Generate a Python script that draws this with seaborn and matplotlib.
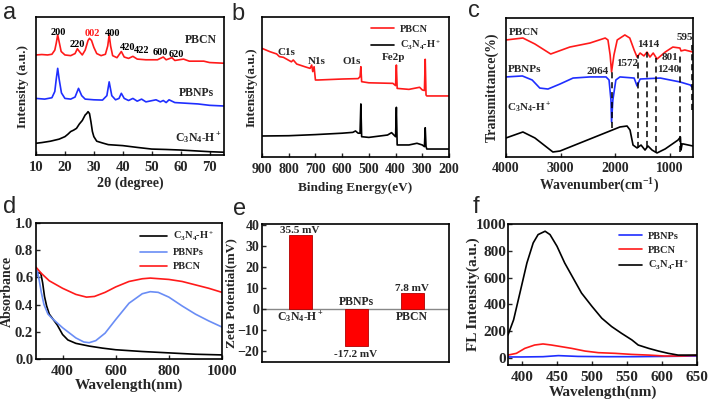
import matplotlib
matplotlib.use("Agg")
import matplotlib.pyplot as plt
import seaborn as sns
import pandas as pd

# ---------------- data ----------------
C3N4 = r"C$_3$N$_4$-H$^+$"

# (a) XRD
xrd_pbcn_x = [10, 12, 14, 15.5, 16.5, 17.0, 17.5, 18.0, 18.7, 20, 22, 23.5, 24.3, 25.0, 26.0, 27.0, 28.0, 28.5, 29.2, 30.0,
              31.0, 32.5, 34.0, 34.8, 35.3, 35.8, 36.5, 38.0, 39.5, 40.5, 42, 43.5, 45, 48, 52, 54, 55, 57, 58, 61, 63, 68, 70, 75]
xrd_pbcn_y = [72.5, 72.8, 72.5, 73, 76, 81, 87, 82, 75, 72.5, 72, 73.5, 77, 75, 72.5, 76, 83, 84.5, 83, 78,
              73.5, 72, 73, 79, 87, 79, 72, 70.5, 75, 71, 70, 71.5, 69.5, 69, 69, 71, 69, 70.5, 68.5, 69.5, 68, 68, 67, 66.5]
xrd_pbnp_x = [10, 13, 15.5, 16.5, 17.0, 17.5, 18.0, 18.8, 20, 22, 23.5, 24.7, 25.8, 27, 30, 33, 34.5, 35.3, 36.2, 37.5,
              38.7, 39.5, 40.5, 42, 43.5, 45, 46.5, 48, 51.5, 53, 54, 55, 56, 58, 62, 66, 70, 75]
xrd_pbnp_y = [41, 40.5, 41.5, 46, 55, 62.8, 55, 45, 41, 40.5, 42, 48.3, 43, 40.5, 40, 39.8, 43, 53, 43, 40,
              41, 44.7, 41, 39.5, 41, 39, 40.5, 38.5, 40, 38.5, 39.5, 38, 40, 38, 37.5, 37, 36, 35.5]
xrd_cn_x = [10, 12, 15, 18, 20, 21, 22, 23, 24, 25, 26, 27, 27.5, 28, 28.5, 29, 29.5, 30, 31, 33,
            35, 40, 45, 50, 55, 60, 65, 70, 75]
xrd_cn_y = [8.5, 9, 10, 11.5, 13.3, 15, 17, 18, 19.3, 22.5, 25, 29, 30, 31.4, 30, 24, 17, 13.3, 10, 8.7,
            7.5, 6.8, 5.5, 4.3, 4, 3.6, 3, 2.4, 2]
xrd_peak_labels = ["200", "220", "002", "400", "420", "422", "600", "620"]
xrd_peak_x = [17.6, 24.2, 29.4, 36.6, 41.6, 46.4, 52.9, 58.4]
xrd_peak_y = [89, 80, 87.7, 87.7, 78, 76, 74.6, 73]

# (b) XPS
xps_pbcn_x = [900, 870, 845, 835, 820, 790, 783, 770, 740, 720, 714, 710, 705, 700, 690, 600, 540, 533, 530, 527,
              500, 410, 400, 397, 394, 350, 310, 300, 292, 289, 286, 283, 200]
xps_pbcn_y = [77.6, 75.2, 73.6, 71.7, 71.2, 68, 69.3, 66.4, 64.5, 63.3, 65.7, 61, 64.5, 55, 55, 55.7, 56, 57.4, 64.5, 53.8,
              53, 52.6, 51, 65.7, 49, 48.3, 49.8, 47.9, 47.5, 69.8, 44.3, 43.6, 43.6]
xps_cn_x = [900, 800, 700, 600, 560, 550, 540, 533, 530, 527, 500, 430, 415, 400, 397, 394, 350, 320, 300, 292,
            289, 286, 283, 200]
xps_cn_y = [15, 15.2, 16, 17, 17.6, 18.6, 17, 17, 37.9, 14.5, 14, 15.7, 17.4, 14.5, 35.5, 8.6, 8.6, 9.8, 8.6, 7.4,
            20.9, 7.4, 5.7, 5.7]
xps_labels = ["C1s", "N1s", "O1s", "Fe2p"]
xps_label_x = [810, 694, 563, 409]
xps_label_y = [74.3, 67.9, 67.9, 71.4]

# (c) FTIR
ir_pbcn_x = [4000, 3690, 3470, 3180, 2830, 2460, 2180, 2130, 2090, 2064, 2020, 1960, 1820, 1730, 1650, 1596, 1540, 1470, 1414, 1360,
             1300, 1230, 1080, 940, 810, 790, 720, 570]
ir_pbcn_y = [84.2, 85.6, 81.3, 74.1, 79.1, 82, 85.6, 84.2, 73.4, 61.2, 73.4, 84.2, 87.8, 85.6, 77, 71.9, 74.8, 72.7, 75.5, 71.9,
             74.8, 70.5, 75.5, 79.1, 78.4, 76.3, 77, 75.5]
ir_pbnp_x = [4000, 3700, 3520, 3380, 3230, 3010, 2770, 2460, 2165, 2110, 2075, 2064, 2040, 1985, 1910, 1650, 1596, 1540, 1170, 810,
             620, 570]
ir_pbnp_y = [57.6, 58.3, 55.4, 49.6, 48.9, 52.5, 56.8, 57.6, 57.6, 55.4, 41, 25.2, 41, 55.4, 57.6, 56.8, 51.1, 56.1, 56.8, 54,
             51.8, 49.6]
ir_cn_x = [4000, 3690, 3470, 3140, 3010, 1910, 1780, 1725, 1670, 1596, 1523, 1450, 1395, 1321, 1230, 1080, 845, 801, 790, 770,
           750, 570]
ir_cn_y = [13.7, 18, 13.7, 3.6, 4.3, 21.6, 22.3, 19.4, 8.6, 6.5, 8.6, 5, 7.9, 5, 2.9, 5.8, 12.2, 14.4, 5, 9.4,
           9.4, 7.9]
ir_bands = [2064, 1572, 1414, 1240, 801, 595]
ir_band_top = [61.2, 73.4, 75.5, 71.2, 73.4, 80.6]
ir_band_bottom = [20.9, 6.5, 7.2, 3.6, 3.6, 33.8]
ir_band_label_x = [2312, 1780, 1394, 1028, 991, 716]
ir_band_label_y = [61.2, 67.6, 80.6, 62.6, 71.9, 86.3]

# (d) UV-vis
uv_cn_x = [300, 308, 318, 325, 332, 340, 350, 365, 380, 400, 420, 450, 500, 550, 600, 700, 800, 900, 1000]
uv_cn_y = [0.60, 0.635, 0.63, 0.56, 0.46, 0.39, 0.33, 0.29, 0.25, 0.18, 0.14, 0.115, 0.095, 0.08, 0.068, 0.055, 0.045, 0.035, 0.03]
uv_pbnp_x = [300, 305, 312, 320, 330, 345, 360, 400, 450, 480, 500, 525, 560, 600, 650, 700, 730, 760, 800, 850, 900, 950, 1000]
uv_pbnp_y = [0.60, 0.65, 0.58, 0.49, 0.40, 0.33, 0.30, 0.23, 0.155, 0.125, 0.12, 0.135, 0.19, 0.29, 0.41, 0.48, 0.495, 0.49, 0.455,
             0.39, 0.33, 0.28, 0.235]
uv_pbcn_x = [300, 320, 350, 400, 450, 490, 520, 560, 600, 650, 700, 730, 800, 850, 900, 950, 1000]
uv_pbcn_y = [0.675, 0.63, 0.575, 0.52, 0.475, 0.455, 0.46, 0.49, 0.53, 0.57, 0.59, 0.595, 0.585, 0.57, 0.545, 0.52, 0.49]

# (e) zeta potential
zeta_names = ["C3N4-H+", "PBNPs", "PBCN"]
zeta_values = [35.5, -17.2, 7.8]
zeta_display = [C3N4, "PBNPs", "PBCN"]

# (f) fluorescence
fl_cn_x = [380, 388, 397, 407, 416, 423, 433, 440, 450, 461, 473, 485, 500, 514, 528, 542, 557, 566, 581, 595, 609, 623, 650]
fl_cn_y = [172, 285, 485, 709, 859, 921, 946, 921, 834, 709, 597, 485, 385, 297, 235, 185, 135, 97, 72, 52, 35, 22, 22]
fl_pbcn_x = [380, 392, 404, 418, 430, 442, 456, 471, 490, 509, 533, 557, 581, 604, 628, 650]
fl_pbcn_y = [22, 35, 72, 97, 105, 97, 85, 72, 52, 40, 35, 27, 22, 15, 15, 20]
fl_pbnp_x = [380, 400, 430, 452, 480, 520, 560, 600, 650]
fl_pbnp_y = [8, 8, 10, 18, 12, 10, 10, 12, 15]

# ---------------- style ----------------
sns.set_style("ticks")
plt.rcParams["font.family"] = ["Liberation Serif", "DejaVu Serif"]
plt.rcParams["font.weight"] = "bold"
plt.rcParams["axes.labelweight"] = "bold"
plt.rcParams["mathtext.fontset"] = "custom"
plt.rcParams["mathtext.rm"] = "Liberation Serif:bold"
plt.rcParams["mathtext.it"] = "Liberation Serif:italic:bold"
plt.rcParams["mathtext.bf"] = "Liberation Serif:bold"
plt.rcParams["mathtext.default"] = "rm"
plt.rcParams["axes.linewidth"] = 1.2

RED = "#FF1A1A"
BLUE = "#1F2EFF"
LBLUE = "#6A8DF5"
LW = 1.2

W, H = 709, 401
fig = plt.figure(figsize=(W / 100, H / 100), dpi=100)
BOX = {}


def add_ax(l, r, t, b):
    ax = fig.add_axes([l / W, 1 - b / H, (r - l) / W, (b - t) / H])
    BOX[ax] = (l, r, t, b)
    return ax


def line(ax, x, y, color, label=None):
    sns.lineplot(x=x, y=y, ax=ax, color=color, lw=LW, estimator=None, sort=False, label=label)


def frame(ax, fs, ypad=3, xpad=4.5):
    for s in ax.spines.values():
        s.set_visible(True)
        s.set_color("black")
        s.set_linewidth(1.2)
    ax.tick_params(direction="in", length=3, width=1, labelsize=fs)
    ax.tick_params(axis="x", pad=xpad)
    ax.tick_params(axis="y", pad=ypad)


def labels(ax, xl, xfs, xpy, yl, yfs, ypx):
    l, r, t, b = BOX[ax]
    ax.set_xlabel(xl, fontsize=xfs)
    ax.set_ylabel(yl, fontsize=yfs)
    ax.xaxis.set_label_coords(0.5, (b - xpy) / (b - t))
    ax.xaxis.label.set_va("center")
    ax.yaxis.set_label_coords((ypx - l) / (r - l), 0.5)
    ax.yaxis.label.set_va("center")


# (a)
ax = add_ax(36, 224, 17, 155)
line(ax, xrd_pbcn_x, xrd_pbcn_y, RED)
line(ax, xrd_pbnp_x, xrd_pbnp_y, BLUE)
line(ax, xrd_cn_x, xrd_cn_y, "black")
ax.set_xlim(10, 75)
ax.set_ylim(0, 100)
ax.set_xticks([10, 20, 30, 40, 50, 60, 70])
ax.set_yticks([])
frame(ax, 10.5)
labels(ax, "2θ (degree)", 10, 183, "Intensity (a.u.)", 9.5, 23)
for lab, x, y in zip(xrd_peak_labels, xrd_peak_x, xrd_peak_y):
    ax.text(x, y, lab, fontsize=7.5, ha="center", va="center", color=RED if lab == "002" else "black")
ax.text(67, 83, "PBCN", fontsize=8.5, ha="center", va="center")
ax.text(65.3, 45, "PBNPs", fontsize=8.5, ha="center", va="center")
ax.text(66, 12.3, C3N4, fontsize=8.5, ha="center", va="center")

# (b)
ax = add_ax(262, 449, 17, 157)
line(ax, xps_pbcn_x, xps_pbcn_y, RED, "PBCN")
line(ax, xps_cn_x, xps_cn_y, "black", C3N4)
ax.set_xlim(900, 200)
ax.set_ylim(0, 100)
ax.set_xticks([900, 800, 700, 600, 500, 400, 300, 200])
ax.set_yticks([])
frame(ax, 10)
labels(ax, "Binding Energy(eV)", 9.5, 188, "Intensity(a.u.)", 9.5, 252)
for lab, x, y in zip(xps_labels, xps_label_x, xps_label_y):
    ax.text(x, y, lab, fontsize=8, ha="center", va="center")
ax.legend(loc="upper right", frameon=False, fontsize=7.5, handlelength=2.2, labelspacing=0.5,
          borderaxespad=0.3, handletextpad=0.6)

# (c)
ax = add_ax(506, 693, 18, 157)
line(ax, ir_pbcn_x, ir_pbcn_y, RED)
line(ax, ir_pbnp_x, ir_pbnp_y, BLUE)
line(ax, ir_cn_x, ir_cn_y, "black")
ax.vlines(ir_bands, ir_band_bottom, ir_band_top, colors="black", linestyles=(0, (4, 2.5)), lw=1.1)
ax.set_xlim(4000, 570)
ax.set_ylim(0, 100)
ax.set_xticks([4000, 3000, 2000, 1000])
ax.set_yticks([])
frame(ax, 10, xpad=3.5)
labels(ax, "Wavenumber(cm$^{-1}$)", 10, 186, "Transmittance(%)", 10, 492)
for b, x, y in zip(ir_bands, ir_band_label_x, ir_band_label_y):
    ax.text(x, y, str(b), fontsize=8, ha="center", va="center")
ax.text(3950, 89.9, "PBCN", fontsize=8, ha="left", va="center")
ax.text(3960, 62.6, "PBNPs", fontsize=8, ha="left", va="center")
ax.text(3975, 35.3, C3N4, fontsize=8, ha="left", va="center")

# (d)
ax = add_ax(36, 222, 223, 359)
line(ax, uv_cn_x, uv_cn_y, "black", C3N4)
line(ax, uv_pbnp_x, uv_pbnp_y, LBLUE, "PBNPs")
line(ax, uv_pbcn_x, uv_pbcn_y, RED, "PBCN")
ax.set_xlim(300, 1000)
ax.set_ylim(0, 1.0)
ax.set_xticks([400, 600, 800, 1000])
ax.set_yticks([0.0, 0.2, 0.4, 0.6, 0.8, 1.0])
ax.set_yticklabels([f"{v:.1f}" for v in [0.0, 0.2, 0.4, 0.6, 0.8, 1.0]])
frame(ax, 10.5, ypad=2)
ax.tick_params(axis="x", labelsize=11)
labels(ax, "Wavelength(nm)", 11, 385, "Absorbance", 10, 7)
ax.legend(loc="upper right", frameon=False, fontsize=7.5, handlelength=2.6, labelspacing=0.45,
          borderaxespad=0.3, handletextpad=0.6)

# (e)
ax = add_ax(262, 449, 224, 362)
df_z = pd.DataFrame({"sample": zeta_names, "zeta": zeta_values})
sns.barplot(data=df_z, x="sample", y="zeta", ax=ax, color="#FF0000", saturation=1, width=0.41,
            edgecolor="#B00000", linewidth=0.6)
ax.axhline(0, color="#888888", lw=1.0, zorder=0.5)
ax.set_xlim(-0.68, 2.66)
ax.set_ylim(-25, 40.5)
ax.set_xticks([])
ax.set_yticks([40, 30, 20, 10, 0, -10, -20])
frame(ax, 10, ypad=2)
labels(ax, "", 10, 380, "Zeta Potential(mV)", 9.5, 231)
for i, (v, name) in enumerate(zip(zeta_values, zeta_display)):
    if v > 0:
        ax.text(i, v + 1.9, f"{v} mV", fontsize=8, ha="center", va="center")
        ax.text(i, -3.8, name, fontsize=8.5, ha="center", va="center")
    else:
        ax.text(i, v - 4.3, f"{v} mV", fontsize=8, ha="center", va="center")
        ax.text(i, 3.5, name, fontsize=8.5, ha="center", va="center")

# (f)
ax = add_ax(508, 697, 224, 365)
line(ax, fl_pbnp_x, fl_pbnp_y, BLUE, "PBNPs")
line(ax, fl_pbcn_x, fl_pbcn_y, RED, "PBCN")
line(ax, fl_cn_x, fl_cn_y, "black", C3N4)
ax.set_xlim(380, 650)
ax.set_ylim(-52, 1000)
ax.set_xticks([400, 450, 500, 550, 600, 650])
ax.set_yticks([0, 200, 400, 600, 800, 1000])
frame(ax, 11, ypad=1.2)
labels(ax, "Wavelength(nm)", 11, 392, "FL Intensity(a.u.)", 11, 473)
ax.legend(loc="upper right", frameon=False, fontsize=7.5, handlelength=2.2, labelspacing=0.45,
          borderaxespad=0.3, handletextpad=0.6)

# panel letters
for lab, x, y in [("a", 10, 13), ("b", 238, 14), ("c", 474, 11), ("d", 10, 207), ("e", 240, 209), ("f", 476, 207)]:
    fig.text(x / W, 1 - y / H, lab, fontsize=17, family="Liberation Sans", weight="normal",
             ha="center", va="center")

fig.savefig("out.png", dpi=100)
